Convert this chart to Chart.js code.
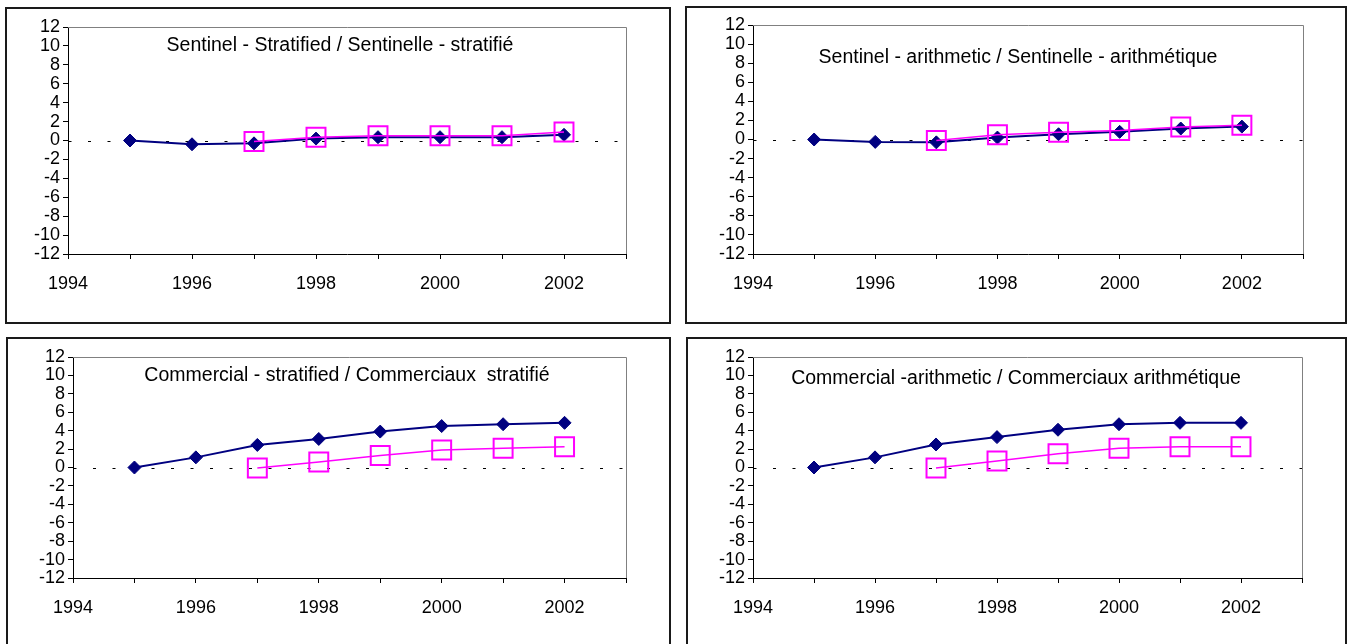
<!DOCTYPE html>
<html>
<head>
<meta charset="utf-8">
<script src="https://cdn.jsdelivr.net/npm/chart.js@4/dist/chart.umd.min.js"></script>
<style>
  body { margin: 0; background: #fff; width: 1349px; height: 644px; overflow: hidden; position: relative; font-family: "Liberation Sans", Arial, sans-serif; }
  .box { position: absolute; border: 2px solid #1a1a1a; box-sizing: border-box; background: #fff; }
  .box .wrap { position: absolute; left: 0; top: 0; }
  .ttl { position: absolute; white-space: nowrap; transform: translateX(-50%); font-size: 19.5px; line-height: 20px; color: #000; }
</style>
</head>
<body>

<div class="box" id="box1" style="left:5px;top:7px;width:666px;height:317px"><div class="wrap" style="width:662px;height:313px"><canvas id="c1"></canvas></div></div>
<div class="box" id="box2" style="left:685px;top:6px;width:662px;height:318px"><div class="wrap" style="width:658px;height:314px"><canvas id="c2"></canvas></div></div>
<div class="box" id="box3" style="left:6px;top:337px;width:665px;height:330px"><div class="wrap" style="width:661px;height:326px"><canvas id="c3"></canvas></div></div>
<div class="box" id="box4" style="left:686px;top:337px;width:661px;height:330px"><div class="wrap" style="width:657px;height:326px"><canvas id="c4"></canvas></div></div>

<div class="ttl" style="left:340px;top:34px">Sentinel - Stratified / Sentinelle - stratifié</div>
<div class="ttl" style="left:1018px;top:46px">Sentinel - arithmetic / Sentinelle - arithmétique</div>
<div class="ttl" style="left:347px;top:364px">Commercial - stratified / Commerciaux&nbsp; stratifié</div>
<div class="ttl" style="left:1016px;top:367px">Commercial -arithmetic / Commerciaux arithmétique</div>

<script>
// years shared by all four panels
const years = [1995, 1996, 1997, 1998, 1999, 2000, 2001, 2002];
const yTicks = [-12, -10, -8, -6, -4, -2, 0, 2, 4, 6, 8, 10, 12];

// Sentinel - stratified
const sentStratNavy    = [0, -0.4, -0.3, 0.2, 0.35, 0.35, 0.35, 0.6];
const sentStratMagenta = [null, null, -0.1, 0.35, 0.5, 0.5, 0.5, 0.9];
// Sentinel - arithmetic
const sentArithNavy    = [0, -0.25, -0.3, 0.2, 0.55, 0.8, 1.15, 1.35];
const sentArithMagenta = [null, null, -0.1, 0.5, 0.75, 0.95, 1.3, 1.5];
// Commercial - stratified
const commStratNavy    = [0, 1.1, 2.45, 3.1, 3.9, 4.5, 4.7, 4.85];
const commStratMagenta = [null, null, -0.05, 0.6, 1.3, 1.9, 2.1, 2.25];
// Commercial - arithmetic
const commArithNavy    = [0, 1.1, 2.5, 3.3, 4.1, 4.7, 4.85, 4.85];
const commArithMagenta = [null, null, -0.05, 0.7, 1.5, 2.1, 2.25, 2.25];

const NAVY = '#000080';
const MAGENTA = '#ff00ff';
const FONT = { family: '"Liberation Sans", Arial, sans-serif', size: 18 };

function pts(vals) {
  return years.map((yr, i) => ({ x: yr, y: vals[i] })).filter(p => p.y !== null);
}

// gray frame on top/right of plot area + dashed zero line
const framePlugin = {
  id: 'frame',
  beforeDatasetsDraw(chart) {
    const { ctx, chartArea: a, scales } = chart;
    ctx.save();
    ctx.strokeStyle = '#808080';
    ctx.lineWidth = 1;
    ctx.beginPath();
    ctx.moveTo(a.left, a.top + 0.5);
    ctx.lineTo(a.right + 0.5, a.top + 0.5);
    ctx.lineTo(a.right + 0.5, a.bottom);
    ctx.stroke();

    const y0 = Math.round(scales.y.getPixelForValue(0)) + 0.5;
    ctx.strokeStyle = '#000';
    ctx.setLineDash([3, 16.5]);
    ctx.lineDashOffset = -20;
    ctx.beginPath();
    ctx.moveTo(a.left, y0);
    ctx.lineTo(a.right, y0);
    ctx.stroke();
    ctx.restore();
  }
};

function makeChart(id, navy, magenta, lay) {
  new Chart(document.getElementById(id), {
    type: 'line',
    data: {
      datasets: [
        {
          data: pts(magenta),
          borderColor: MAGENTA,
          borderWidth: 1.5,
          pointStyle: 'rect',
          pointRadius: 13.4,
          pointBorderWidth: 2,
          pointBorderColor: MAGENTA,
          pointBackgroundColor: 'transparent',
          tension: 0,
          order: 1
        },
        {
          data: pts(navy),
          borderColor: NAVY,
          borderWidth: 2,
          pointStyle: 'rectRot',
          pointRadius: 6.5,
          pointBorderWidth: 1,
          pointBorderColor: NAVY,
          pointBackgroundColor: NAVY,
          tension: 0,
          order: 2
        }
      ]
    },
    options: {
      responsive: true,
      maintainAspectRatio: false,
      animation: false,
      layout: { padding: { left: 0, top: lay.top, right: lay.right, bottom: 0 } },
      plugins: { legend: { display: false }, tooltip: { enabled: false }, title: { display: false } },
      scales: {
        x: {
          type: 'linear',
          min: 1994,
          max: 2003,
          afterFit: s => { s.height = lay.xh; },
          ticks: {
            stepSize: 1,
            autoSkip: false,
            maxRotation: 0,
            padding: 14,
            color: '#000',
            font: FONT,
            callback: v => (v % 2 === 0 ? String(v) : '')
          },
          grid: { drawOnChartArea: false, tickLength: 5, tickColor: '#000', tickWidth: 1 },
          border: { color: '#000', width: 1 }
        },
        y: {
          min: yTicks[0],
          max: yTicks[yTicks.length - 1],
          afterFit: s => { s.width = lay.yw; },
          afterBuildTicks: s => { s.ticks = yTicks.map(v => ({ value: v })); },
          ticks: { autoSkip: false, padding: 3, color: '#000', font: FONT },
          grid: { drawOnChartArea: false, tickLength: 5, tickColor: '#000', tickWidth: 1 },
          border: { color: '#000', width: 1 }
        }
      }
    },
    plugins: [framePlugin]
  });
}

makeChart('c1', sentStratNavy, sentStratMagenta, { yw: 61, top: 18, right: 43, xh: 68 });
makeChart('c2', sentArithNavy, sentArithMagenta, { yw: 66, top: 17, right: 42, xh: 68 });
makeChart('c3', commStratNavy, commStratMagenta, { yw: 65, top: 18, right: 43, xh: 87 });
makeChart('c4', commArithNavy, commArithMagenta, { yw: 65, top: 18, right: 43, xh: 87 });
</script>
</body>
</html>
